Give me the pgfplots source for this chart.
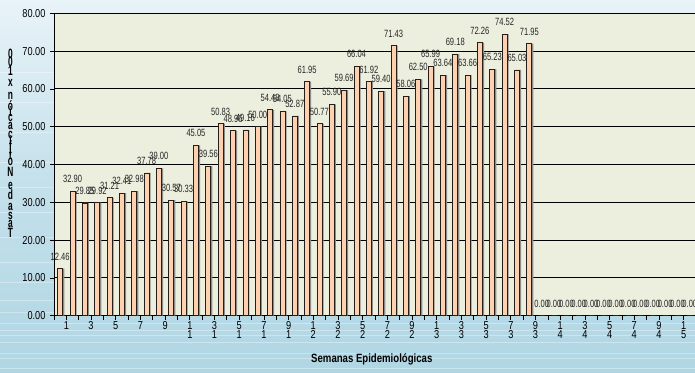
\documentclass[border=0pt]{standalone}
\usepackage{pgfplots}
\pgfplotsset{compat=1.18}
\usepackage{fontspec}
\setmainfont{Liberation Sans}
\newfontfamily\ticksans[FakeStretch=0.80]{Liberation Sans}
\newfontfamily\valsans[FakeStretch=0.72]{Liberation Sans}
\newfontfamily\titlesans[FakeStretch=0.80]{Liberation Sans}
\newfontfamily\stacksans[FakeStretch=0.62]{Liberation Sans}

\definecolor{bgtop}{RGB}{232,243,248}
\definecolor{bgbot}{RGB}{176,214,228}
\definecolor{plotbg}{RGB}{236,238,222}
\definecolor{barfill}{RGB}{253,208,176}
\definecolor{barline}{RGB}{40,30,25}

% one upright character in a slot as tall as its advance width
\newcommand\vc[2]{\hbox to 14pt{\hss\vbox to #2pt{\vss\hbox{#1}\vss}\hss}}

\pgfplotstableread{
week rate
1 12.46
2 32.90
3 29.85
4 29.92
5 31.21
6 32.41
7 32.98
8 37.78
9 39.00
10 30.57
11 30.33
12 45.05
13 39.56
14 50.83
15 48.96
16 49.16
17 50.00
18 54.48
19 54.05
20 52.87
21 61.95
22 50.77
23 55.90
24 59.69
25 66.04
26 61.92
27 59.40
28 71.43
29 58.06
30 62.50
31 65.99
32 63.64
33 69.18
34 63.66
35 72.26
36 65.23
37 74.52
38 65.03
39 71.95
40 0
41 0
42 0
43 0
44 0
45 0
46 0
47 0
48 0
49 0
50 0
51 0
52 0
}\ratetable

\begin{document}
\begin{tikzpicture}[x=1pt,y=1pt]
% page background
\shade[top color=bgtop, bottom color=bgbot, middle color=bgbot!65!bgtop] (0,0) rectangle (695,372);
\foreach \yy in {4,14,19,30,37,42,49,60,72,90,110,135,160,185,210,240,270,300}
  \draw[white, opacity=0.35, line width=0.8pt] (0,\yy) -- (695,\yy);

\begin{axis}[
  at={(54pt,56.3pt)}, anchor=south west,
  scale only axis, width=642pt, height=302.4pt,
  xmin=0.5, xmax=52.5, ymin=0, ymax=80,
  ybar, bar width=5pt,
  axis background/.style={fill=plotbg},
  axis line style={black, line width=0.8pt},
  ytick={0,10,...,80},
  ymajorgrids,
  grid style={black, line width=0.9pt},
  yticklabel={\pgfmathprintnumber[fixed,fixed zerofill,precision=2]{\tick}},
  /pgf/number format/assume math mode=true,
  yticklabel style={font=\ticksans\fontsize{11.5}{12}\selectfont, xshift=-1pt},
  xtick={1.5,3.5,...,51.5},
  xticklabels={1,3,5,7,9,{1\\1},{3\\1},{5\\1},{7\\1},{9\\1},{1\\2},{3\\2},{5\\2},{7\\2},{9\\2},{1\\3},{3\\3},{5\\3},{7\\3},{9\\3},{1\\4},{3\\4},{5\\4},{7\\4},{9\\4},{1\\5}},
  minor xtick={0.5,1.5,...,52.5},
  xticklabel style={font=\ticksans\fontsize{11.5}{8.5}\selectfont, align=center, anchor=north, inner sep=0pt, yshift=-2pt},
  xtick pos=bottom, ytick pos=left,
  tick align=outside,
  major tick length=4pt, minor tick length=4pt,
  tick style={black, line width=0.7pt},
  xlabel={Semanas Epidemiológicas},
  every axis x label/.style={at={(rel axis cs:0.495,0)}, anchor=center, yshift=-44pt,
    font=\titlesans\bfseries\fontsize{12}{14}\selectfont},
  every node near coord/.style={font=\valsans\fontsize{10.5}{11}\selectfont, text=black!85, anchor=base, yshift=8.5pt, inner sep=0pt},
  clip=false,
]
% soft shadow to the right of each bar
\addplot[fill=black!45, draw=none, bar shift=1.6pt, forget plot] table[x=week, y=rate] {\ratetable};
\addplot[fill=barfill, draw=barline, line width=0.7pt, bar shift=0pt,
  nodes near coords={\pgfmathprintnumber[fixed,fixed zerofill,precision=2]{\pgfplotspointmeta}}]
  table[x=week, y=rate] {\ratetable};
\end{axis}

% vertical axis title, upright letters stacked from bottom to top
\node[font=\stacksans\bfseries\fontsize{13.5}{13.5}\selectfont, inner sep=0pt] at (10.5,228.5)
 {\vbox{\offinterlineskip
  \vc{0}{8.34}\vc{0}{8.34}\vc{1}{8.34}\vc{}{4.17}\vc{x}{8.34}\vc{}{4.17}%
  \vc{n}{9.17}\vc{ó}{9.17}\vc{i}{4.17}\vc{c}{8.34}\vc{a}{8.34}\vc{c}{8.34}%
  \vc{i}{4.17}\vc{f}{5.0}\vc{i}{4.17}\vc{t}{5.0}\vc{o}{9.17}\vc{N}{10.83}%
  \vc{}{4.17}\vc{e}{8.34}\vc{d}{9.17}\vc{}{4.17}\vc{a}{8.34}\vc{s}{8.34}%
  \vc{a}{8.34}\vc{T}{9.17}}};

\pgfresetboundingbox
\path[use as bounding box] (0,0) rectangle (695,372);
\end{tikzpicture}
\end{document}
